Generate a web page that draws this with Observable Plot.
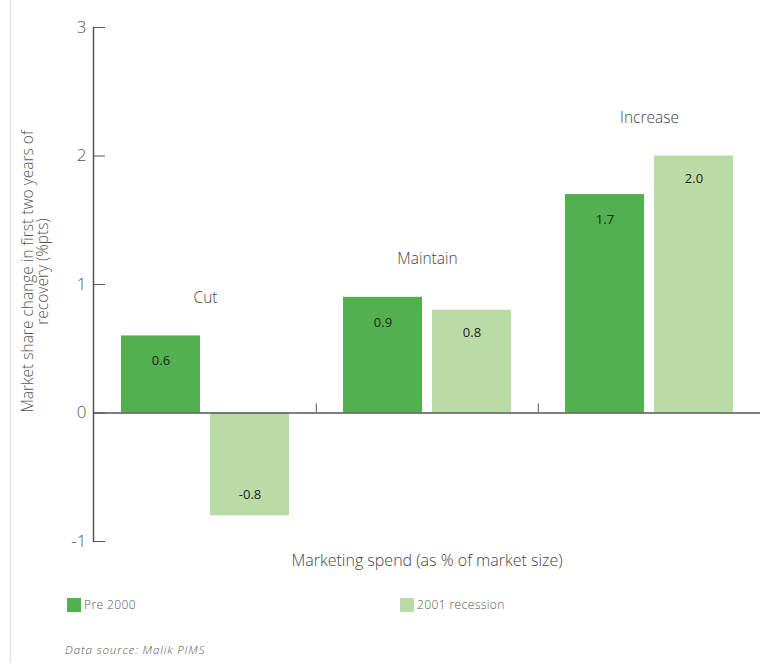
<!DOCTYPE html>
<html>
<head>
<meta charset="utf-8">
<script src="https://cdn.jsdelivr.net/npm/d3@7"></script>
<script src="https://cdn.jsdelivr.net/npm/@observablehq/plot@0.6"></script>
<style>
  html, body { margin: 0; padding: 0; background: #fff; }
  body { width: 760px; height: 663px; position: relative; overflow: hidden; font-family: "Open Sans", Lato, sans-serif; }
  #border { position: absolute; left: 10px; top: 0; width: 1px; height: 663px; background: #dedede; }
  #chart { position: absolute; left: 0; top: 0; }
  .legend { position: absolute; top: 596px; font-size: 12px; letter-spacing: 0.4px; font-weight: 300; color: #555; display: flex; align-items: center; }
  .legend span.sw { display: inline-block; width: 14px; height: 14px; margin-right: 3px; }
  #caption { position: absolute; left: 65px; top: 642px; font-size: 11.5px; letter-spacing: 0.9px; font-style: italic; font-weight: 300; color: #555; }
  svg text.lbl { letter-spacing: 0.5px; }
</style>
</head>
<body>
<div id="border"></div>
<div id="chart"></div>
<div class="legend" id="leg1" style="left:67px"></div>
<div class="legend" id="leg2" style="left:400px"></div>
<div id="caption"></div>
<script>
const groups = ["Cut", "Maintain", "Increase"];
const seriesNames = ["Pre 2000", "2001 recession"];
const pre2000 = [0.6, 0.9, 1.7];
const recession2001 = [-0.8, 0.8, 2.0];
const yTicks = [-1, 0, 1, 2, 3];
const seriesColors = ["#52b04f", "#b9dba6"];
const yLabel = "Market share change in first two years of\nrecovery (%pts)";
const xLabel = "Marketing spend (as % of market size)";
const caption = "Data source: Malik PIMS";

const rows = [];
groups.forEach((g, i) => {
  rows.push({group: g, series: seriesNames[0], value: pre2000[i]});
  rows.push({group: g, series: seriesNames[1], value: recession2001[i]});
});
const preRows = rows.filter(d => d.series === seriesNames[0]);
const recRows = rows.filter(d => d.series === seriesNames[1]);
const groupTops = groups.map((g, i) => ({group: g, top: Math.max(pre2000[i], recession2001[i])}));
const fmt = d3.format(".1f");
const label = (d) => fmt(d.value).replace("\u2212", "-");

const chart = Plot.plot({
  width: 760,
  height: 580,
  marginLeft: 93,
  marginRight: 0,
  marginTop: 27,
  marginBottom: 39,
  style: {fontFamily: "'Open Sans', Lato, sans-serif", background: "transparent"},
  x: {domain: groups, padding: 0, axis: null},
  y: {domain: [-1, 3], axis: null},
  color: {domain: seriesNames, range: seriesColors},
  marks: [
    Plot.barY(preRows, {x: "group", y: "value", fill: "series", insetLeft: 27, insetRight: 116}),
    Plot.barY(recRows, {x: "group", y: "value", fill: "series", insetLeft: 116, insetRight: 27}),
    Plot.ruleY([0], {stroke: "#555", strokeWidth: 1.5}),
    Plot.frame({anchor: "left", stroke: "#555", strokeWidth: 1.5}),
    Plot.ruleX(groups.slice(1), {x: d => d, y1: 0, y2: 0.07, dx: -111.2, stroke: "#555"}),
    Plot.axisY({ticks: yTicks, tickSize: -12, tickPadding: 19, fontSize: 17, fontWeight: 300, label: null, stroke: "#555", color: "#555", tickFormat: d => d}),
    Plot.text([yLabel], {frameAnchor: "left", textAnchor: "middle", rotate: -90, dx: -58, dy: -13, fontSize: 15.5, fontWeight: 300, fill: "#555", lineHeight: 1.0, className: "lbl"}),
    Plot.text(groupTops, {x: "group", y: "top", text: "group", dy: -38, fontSize: 15.5, fontWeight: 300, fill: "#444", className: "lbl"}),
    Plot.text(preRows.filter(d => d.value >= 0), {x: "group", y: "value", text: label, dx: -44.5, dy: 25, fontSize: 13, fill: "#222"}),
    Plot.text(recRows.filter(d => d.value >= 0), {x: "group", y: "value", text: label, dx: 44.5, dy: 23, fontSize: 13, fill: "#222"}),
    Plot.text(recRows.filter(d => d.value < 0), {x: "group", y: "value", text: label, dx: 44.5, dy: -21, fontSize: 13, fill: "#222"}),
    Plot.text([xLabel], {frameAnchor: "bottom", dy: 24, fontSize: 16, fontWeight: 300, fill: "#444", className: "lbl"})
  ]
});
document.getElementById("chart").appendChild(chart);

["leg1", "leg2"].forEach((id, i) => {
  const el = document.getElementById(id);
  el.innerHTML = `<span class="sw" style="background:${seriesColors[i]}"></span>${seriesNames[i]}`;
});
document.getElementById("caption").textContent = caption;
</script>
</body>
</html>
